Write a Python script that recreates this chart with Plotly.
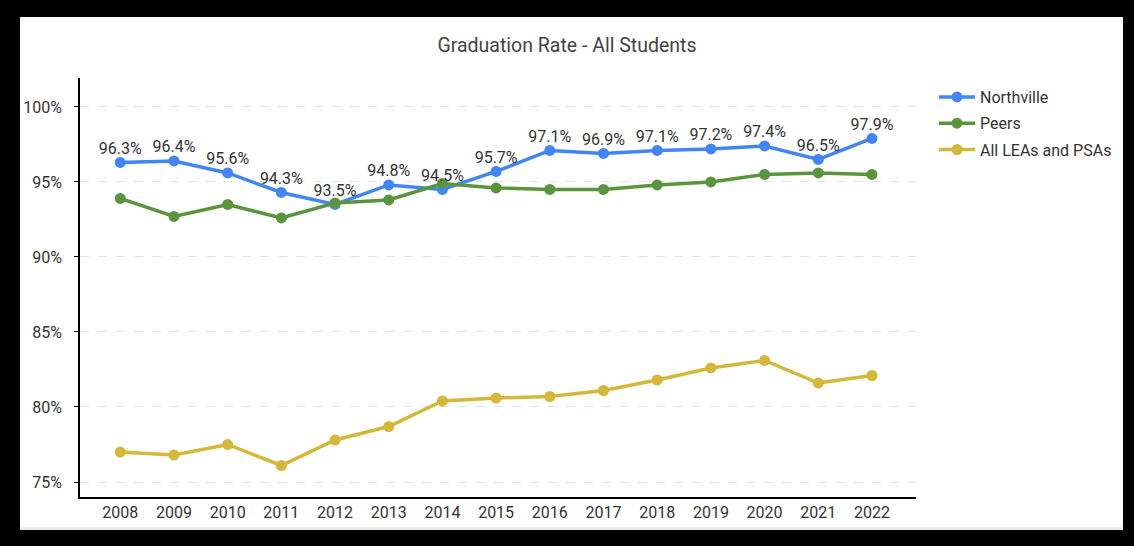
import plotly.graph_objects as go

years = list(range(2008, 2023))
northville = [96.3, 96.4, 95.6, 94.3, 93.5, 94.8, 94.5, 95.7, 97.1, 96.9, 97.1, 97.2, 97.4, 96.5, 97.9]
peers = [93.9, 92.7, 93.5, 92.6, 93.6, 93.8, 94.9, 94.6, 94.5, 94.5, 94.8, 95.0, 95.5, 95.6, 95.5]
all_leas = [77.0, 76.8, 77.5, 76.1, 77.8, 78.7, 80.4, 80.6, 80.7, 81.1, 81.8, 82.6, 83.1, 81.6, 82.1]
series_names = ["Northville", "Peers", "All LEAs and PSAs"]
y_ticks = [75, 80, 85, 90, 95, 100]
y_tick_labels = ["75%", "80%", "85%", "90%", "95%", "100%"]
title_text = "Graduation Rate - All Students"

colors = ["#4285f4", "#5a953d", "#d4b83a"]
FONT = "Roboto, Arial, sans-serif"

W, H = 1134, 546
L, R, T, B = 80, 218, 78, 49
pw, ph = W - L - R, H - T - B

def px_x(p):
    return (p - L) / pw

def px_y(p):
    return (H - B - p) / ph

fig = go.Figure()

data = [northville, peers, all_leas]
for name, vals, col in zip(series_names, data, colors):
    fig.add_trace(go.Scatter(
        x=years, y=vals, name=name, mode="lines+markers", legendgroup=name,
        line=dict(color=col, width=3.5), marker=dict(size=11, color=col),
    ))

# data labels for Northville
fig.add_trace(go.Scatter(
    x=years, y=northville, mode="markers+text", showlegend=False, hoverinfo="skip",
    marker=dict(size=6, color="rgba(0,0,0,0)"),
    text=[f"{v:.1f}%" for v in northville], textposition="top center",
    textfont=dict(family=FONT, size=16, color="#333333"),
))

# white card on black frame
fig.add_shape(type="rect", xref="paper", yref="paper",
              x0=px_x(20), x1=px_x(1123), y0=px_y(530), y1=px_y(17),
              fillcolor="#ececec", line=dict(width=0), layer="below")
fig.add_shape(type="rect", xref="paper", yref="paper",
              x0=px_x(20), x1=px_x(1123), y0=px_y(527), y1=px_y(17),
              fillcolor="white", line=dict(width=0), layer="below")

fig.update_layout(
    width=W, height=H,
    margin=dict(l=L, r=R, t=T, b=B),
    paper_bgcolor="black",
    plot_bgcolor="rgba(0,0,0,0)",
    title=dict(text=title_text, x=0.5, xref="container", xanchor="center",
               y=1 - 45 / H, yref="container", yanchor="middle",
               font=dict(family=FONT, size=19.5, color="#444444")),
    font=dict(family=FONT, size=16, color="#333333"),
    legend=dict(x=px_x(934), y=px_y(80), xanchor="left", yanchor="top",
                xref="paper", yref="paper", bgcolor="rgba(0,0,0,0)",
                font=dict(family=FONT, size=16, color="#333333"),
                itemwidth=36, traceorder="grouped", tracegroupgap=2.5),
    showlegend=True,
)

fig.update_xaxes(
    range=[2007.25, 2022.82], tickvals=years, ticktext=[str(y) for y in years],
    showgrid=False, zeroline=False, showline=True, linecolor="black", linewidth=1.5,
    ticks="", tickfont=dict(family=FONT, size=16, color="#333333"),
)
fig.update_yaxes(
    range=[74, 101.93], tickvals=y_ticks, ticktext=y_tick_labels,
    showgrid=True, gridcolor="#e4e4e4", griddash="dash", gridwidth=1,
    zeroline=False, showline=True, linecolor="black", linewidth=1.5,
    ticks="outside", ticklen=4, tickcolor="black", ticklabelstandoff=9,
    tickfont=dict(family=FONT, size=16, color="#333333"),
)

fig.write_html(
    "out.html",
    config={"displayModeBar": False},
    post_script="document.body.style.margin='0';document.body.style.background='black';document.body.style.overflow='hidden';",
)
